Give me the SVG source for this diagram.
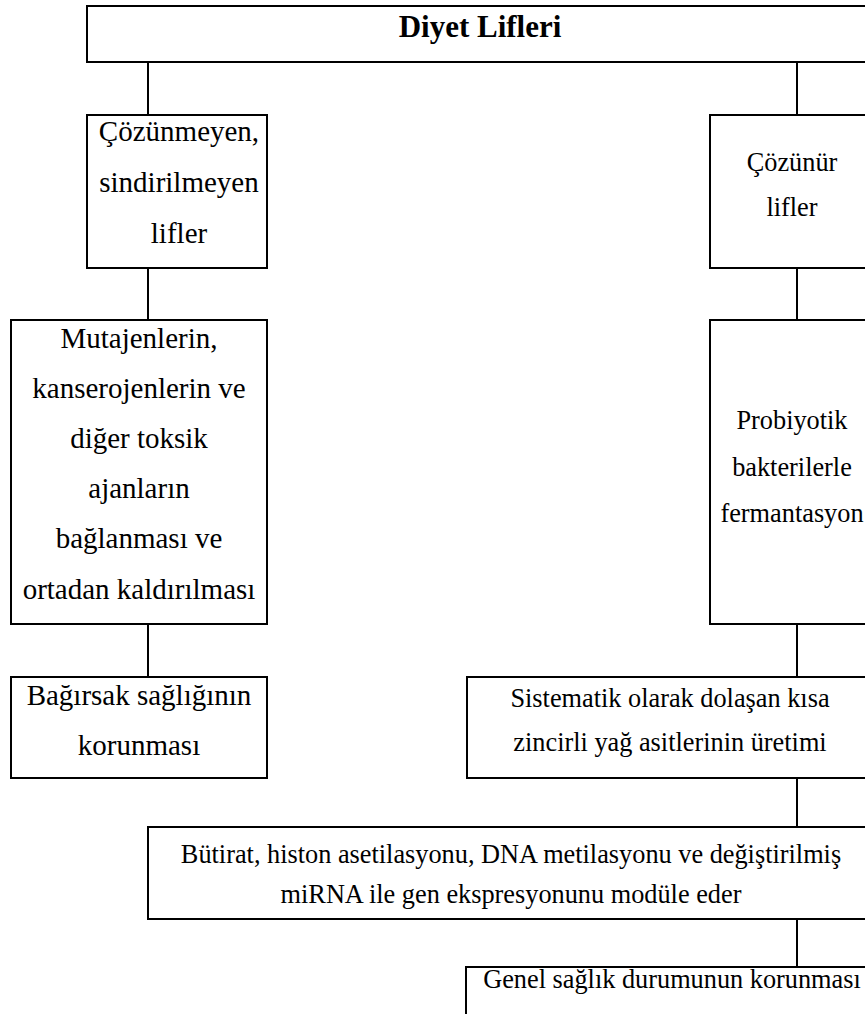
<svg xmlns="http://www.w3.org/2000/svg" width="865" height="1014" viewBox="0 0 865 1014">
<style>
.box{fill:#fff;stroke:#000;stroke-width:2}
.ln{stroke:#000;stroke-width:2;fill:none}
text{font-family:"Liberation Serif","Times New Roman",serif;fill:#000;text-anchor:middle}
.l{font-size:29px}
.r{font-size:26.3px}
.t{font-size:31px;font-weight:bold}
</style>
<rect width="865" height="1014" fill="#fff"/>
<g id="connectors">
<line class="ln" x1="148" y1="62" x2="148" y2="115"/>
<line class="ln" x1="797" y1="62" x2="797" y2="115"/>
<line class="ln" x1="148" y1="268" x2="148" y2="320"/>
<line class="ln" x1="797" y1="268" x2="797" y2="320"/>
<line class="ln" x1="148" y1="624" x2="148" y2="677"/>
<line class="ln" x1="797" y1="624" x2="797" y2="677"/>
<line class="ln" x1="797" y1="778" x2="797" y2="827"/>
<line class="ln" x1="797" y1="919" x2="797" y2="967"/>
</g>
<g id="diyet-lifleri">
<rect class="box" x="87" y="6" width="800" height="56"/>
<text class="t" x="480" y="37">Diyet Lifleri</text>
</g>
<g id="cozunmeyen">
<rect class="box" x="87" y="115" width="180" height="153"/>
<text class="l" x="179" y="141">Çözünmeyen,</text>
<text class="l" x="179" y="192">sindirilmeyen</text>
<text class="l" x="179" y="243">lifler</text>
</g>
<g id="cozunur">
<rect class="box" x="710" y="115" width="170" height="153"/>
<text class="r" x="792" y="171">Çözünür</text>
<text class="r" x="792" y="216">lifler</text>
</g>
<g id="mutajen">
<rect class="box" x="11" y="320" width="256" height="304"/>
<text class="l" x="139" y="348">Mutajenlerin,</text>
<text class="l" x="139" y="398">kanserojenlerin ve</text>
<text class="l" x="139" y="448">diğer toksik</text>
<text class="l" x="139" y="498">ajanların</text>
<text class="l" x="139" y="548">bağlanması ve</text>
<text class="l" x="139" y="599">ortadan kaldırılması</text>
</g>
<g id="probiyotik">
<rect class="box" x="710" y="320" width="170" height="304"/>
<text class="r" x="792" y="429">Probiyotik</text>
<text class="r" x="792" y="476">bakterilerle</text>
<text class="r" x="792" y="522">fermantasyon</text>
</g>
<g id="bagirsak">
<rect class="box" x="11" y="677" width="256" height="101"/>
<text class="l" x="139" y="705">Bağırsak sağlığının</text>
<text class="l" x="139" y="755">korunması</text>
</g>
<g id="sistematik">
<rect class="box" x="467" y="677" width="413" height="101"/>
<text class="r" x="670" y="707">Sistematik olarak dolaşan kısa</text>
<text class="r" x="670" y="751">zincirli yağ asitlerinin üretimi</text>
</g>
<g id="butirat">
<rect class="box" x="148" y="827" width="732" height="92"/>
<text class="r" x="511" y="863">Bütirat, histon asetilasyonu, DNA metilasyonu ve değiştirilmiş</text>
<text class="r" x="511" y="903">miRNA ile gen ekspresyonunu modüle eder</text>
</g>
<g id="genel">
<rect class="box" x="466" y="967" width="414" height="60"/>
<text class="r" x="672" y="988">Genel sağlık durumunun korunması</text>
</g>
</svg>
